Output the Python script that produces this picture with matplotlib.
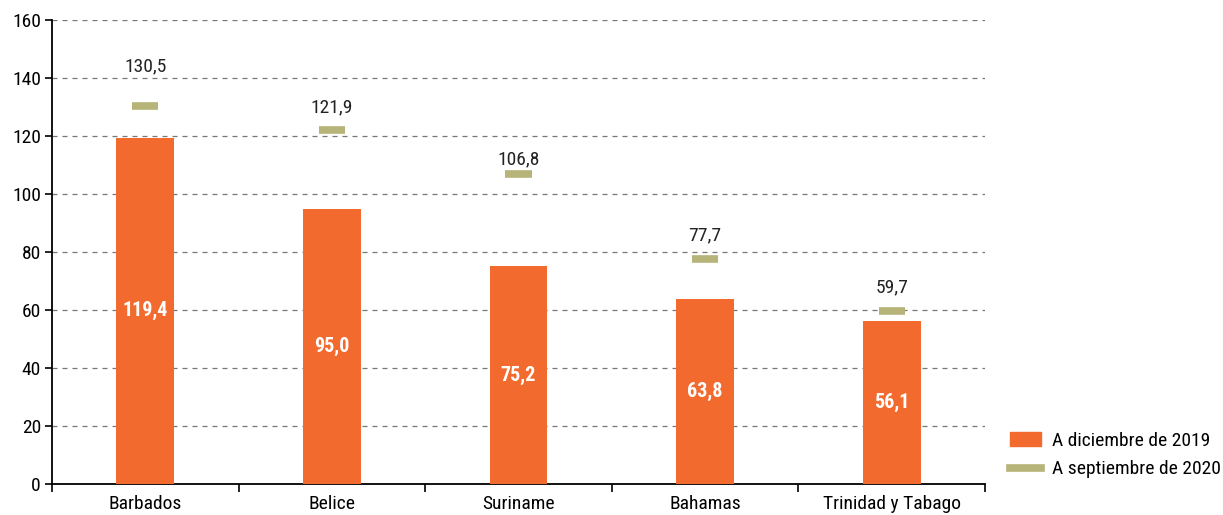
import matplotlib
matplotlib.use("Agg")
import matplotlib.pyplot as plt
from matplotlib import font_manager
from matplotlib.lines import Line2D
from matplotlib.patches import Patch

names = {f.name for f in font_manager.fontManager.ttflist}
fam = "Roboto"
for cand in ["Roboto Condensed", "Liberation Sans Narrow", "Open Sans Condensed", "Noto Sans Condensed"]:
    if cand in names:
        fam = cand
        break
plt.rcParams['font.family'] = [fam, 'DejaVu Sans']

categories = ["Barbados", "Belice", "Suriname", "Bahamas", "Trinidad y Tabago"]
dic_2019 = [119.4, 95.0, 75.2, 63.8, 56.1]
sep_2020 = [130.5, 121.9, 106.8, 77.7, 59.7]
series_names = ["A diciembre de 2019", "A septiembre de 2020"]
yticks = [0, 20, 40, 60, 80, 100, 120, 140, 160]

label_offsets = [28, 17, 11, 17, 17]  # points above marker

orange = "#F26A2E"
olive = "#B7B47A"

fig = plt.figure(figsize=(12.23, 5.15), dpi=100)
ax = fig.add_axes([52/1223, 1-484/515, (985-52)/1223, (484-20)/515])

x = list(range(len(categories)))
ax.bar(x, dic_2019, width=0.31, color=orange, zorder=3)
for xi, v in zip(x, dic_2019):
    ax.text(xi, v/2, f"{v:.1f}".replace(".", ","), ha="center", va="center",
            color="white", fontsize=14.5, fontweight="bold", zorder=4)
for xi, v, off in zip(x, sep_2020, label_offsets):
    ax.plot([xi-0.07, xi+0.07], [v, v], color=olive, lw=5.5, solid_capstyle="butt", zorder=4)
    ax.annotate(f"{v:.1f}".replace(".", ","), (xi, v), xytext=(0, off),
                textcoords="offset points", ha="center", va="center", fontsize=14, color="#222222")

ax.set_xlim(-0.5, len(categories)-0.5)
ax.set_ylim(0, 160)
ax.set_yticks(yticks)
ax.set_yticklabels([str(t) for t in yticks], fontsize=14)
ax.set_xticks(x)
ax.set_xticklabels(categories, fontsize=14)
ax.tick_params(axis="x", which="major", length=0, pad=8)
ax.set_xticks([i-0.5 for i in range(len(categories)+1)], minor=True)
ax.tick_params(axis="x", which="minor", length=6, width=1.2, direction="out")
ax.tick_params(axis="y", length=5, width=1.2, direction="out", pad=3)
for s in ["top", "right"]:
    ax.spines[s].set_visible(False)
ax.spines["left"].set_linewidth(1.3)
ax.spines["bottom"].set_linewidth(1.3)
ax.yaxis.grid(True, linestyle=(0, (4, 4)), color="#777777", lw=0.9, zorder=0)
ax.set_axisbelow(True)

handles = [Patch(color=orange), Line2D([0], [0], color=olive, lw=5.5)]
fig.legend(handles, series_names, loc="upper left", bbox_to_anchor=(1002/1223, 1-424/515),
           frameon=False, fontsize=14, handlelength=1.6, handletextpad=0.55,
           borderaxespad=0.0, labelspacing=0.55)

fig.savefig("out.png", dpi=100)
